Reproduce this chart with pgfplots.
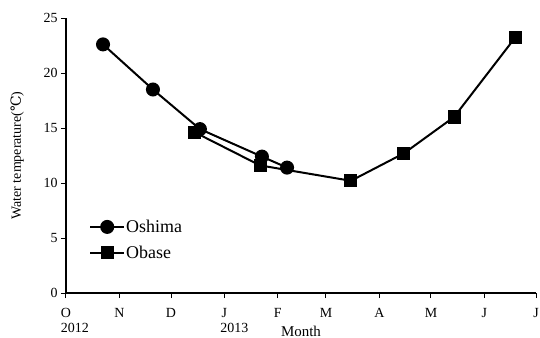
\documentclass[border=0pt]{standalone}
\usepackage{pgfplots}
\pgfplotsset{compat=1.18}
\usepackage{fontspec}
\setmainfont{Liberation Serif}
\newfontfamily\degfont{DejaVu Serif}
\begin{document}
\begin{tikzpicture}
\begin{axis}[
  scale only axis, width=470bp, height=275bp,
  xmin=0, xmax=273, ymin=0, ymax=25,
  axis x line=bottom, axis y line=left,
  axis line style={-, line width=2.2bp, black},
  xtick={0,31,61,92,123,151,182,212,243,273},
  xticklabels={{O\\\makebox[0pt][l]{\hspace{-5bp}2012}}, N, D, {J\\\makebox[0pt][l]{\hspace{-4bp}2013}}, F, M, A, M, J, J},
  xticklabel style={align=center, font=\fontsize{14}{15}\selectfont, yshift=-7bp},
  ytick={0,5,10,15,20,25},
  yticklabel style={font=\fontsize{14}{16}\selectfont},
  /pgf/number format/assume math mode=true,
  tick align=outside, major tick length=5bp,
  tick style={line width=1bp, black},
  xlabel={Month},
  xlabel style={at={(axis description cs:0.5,-0.138)}, anchor=center, font=\fontsize{15}{17}\selectfont},
  ylabel={Water temperature({\degfont ℃})},
  ylabel style={at={(axis description cs:-0.104,0.5)}, anchor=center, font=\fontsize{14}{16}\selectfont},
  legend style={draw=none, fill=none, at={(axis description cs:0.049,0.27)}, anchor=north west,
    font=\fontsize{18}{20}\selectfont, row sep=10bp, inner sep=0pt, nodes={inner sep=1bp}},
  legend cell align=left,
  legend image code/.code={\draw[mark repeat=2,mark phase=2] plot coordinates {(0bp,0bp) (17bp,0bp) (34bp,0bp)};},
  clip=false,
]
\addplot[black, line width=2bp, mark=*, mark size=6bp, mark options={solid, fill=black}]
  coordinates {(21.5,22.6) (50.5,18.5) (77.8,14.9) (113.8,12.4) (128.4,11.4)};
\addlegendentry{Oshima}
\addplot[black, line width=2bp, mark=square*, mark size=5.5bp, mark options={solid, fill=black}]
  coordinates {(74.9,14.6) (112.7,11.6) (165.5,10.2) (196.3,12.7) (225.4,16.0) (260.8,23.2)};
\addlegendentry{Obase}
\end{axis}
\pgfresetboundingbox
\useasboundingbox (-66bp,-45bp) rectangle (474bp,293bp);
\end{tikzpicture}
\end{document}
